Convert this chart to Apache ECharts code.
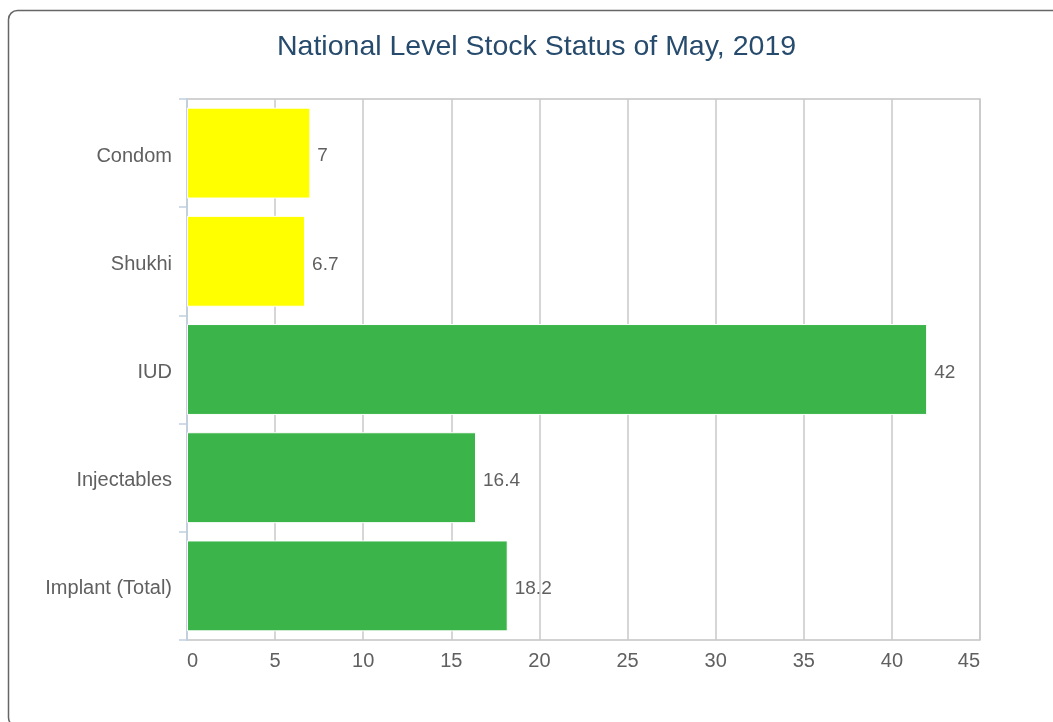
<!DOCTYPE html>
<html>
<head>
<meta charset="utf-8">
<script src="https://cdn.jsdelivr.net/npm/echarts@6/dist/echarts.min.js"></script>
<style>
html,body{margin:0;padding:0;background:#fff;}
#chart{width:1053px;height:722px;}
</style>
</head>
<body>
<div id="chart"></div>
<script>
const categories = ['Condom', 'Shukhi', 'IUD', 'Injectables', 'Implant (Total)'];
const values = [7, 6.7, 42, 16.4, 18.2];
const barColors = ['#FFFF00', '#FFFF00', '#3BB54A', '#3BB54A', '#3BB54A'];
const titleText = 'National Level Stock Status of May, 2019';

const chart = echarts.init(document.getElementById('chart'), null, {renderer: 'canvas'});
const font = '"Liberation Sans", Arial, sans-serif';
chart.setOption({
  animation: false,
  backgroundColor: '#fff',
  title: {
    text: titleText,
    left: 272,
    top: 28,
    textStyle: {color: '#274b6d', fontSize: 28.5, fontWeight: 'normal', fontFamily: font}
  },
  graphic: [{
    type: 'rect',
    shape: {x: 8.5, y: 10.5, width: 1200, height: 716, r: 9},
    style: {fill: 'none', stroke: '#666', lineWidth: 1.5},
    silent: true,
    z: 100
  }],
  grid: {
    left: 187, right: 73, top: 99, bottom: 82,
    show: true, borderColor: '#c4c4c4', borderWidth: 1.5, backgroundColor: 'transparent'
  },
  xAxis: {
    type: 'value',
    min: 0, max: 45, interval: 5,
    axisLine: {show: false},
    axisTick: {show: false},
    splitLine: {show: true, lineStyle: {color: '#c8c8c8', width: 1.5}},
    axisLabel: {
      color: '#606060', fontSize: 20, fontFamily: font, margin: 11,
      alignMinLabel: 'left', alignMaxLabel: 'right'
    }
  },
  yAxis: {
    type: 'category',
    data: categories,
    inverse: true,
    axisLine: {show: true, lineStyle: {color: '#C0D0E0', width: 1.5}},
    axisTick: {show: true, length: 8, alignWithLabel: false, lineStyle: {color: '#C0D0E0', width: 1.5}},
    axisLabel: {
      color: '#606060', fontSize: 20, fontFamily: font, margin: 15,
      formatter: '{a|{value}}',
      rich: {a: {color: '#606060', fontSize: 20, fontFamily: font, padding: [6, 0, 0, 0]}}
    },
    splitLine: {show: false}
  },
  series: [{
    type: 'bar',
    data: values.map((v, i) => ({value: v, itemStyle: {color: barColors[i]}})),
    barCategoryGap: '16%',
    itemStyle: {borderColor: '#fff', borderWidth: 1},
    label: {
      show: true, position: 'right', distance: 7, offset: [0, 3],
      color: '#606060', fontSize: 19, fontFamily: font
    }
  }]
});
</script>
</body>
</html>
